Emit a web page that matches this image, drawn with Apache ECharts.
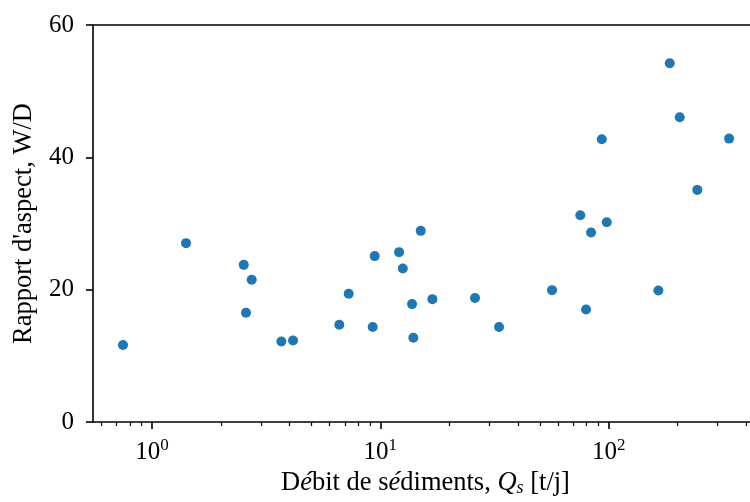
<!DOCTYPE html>
<html>
<head>
<meta charset="utf-8">
<script src="https://cdn.jsdelivr.net/npm/echarts@6/dist/echarts.min.js"></script>
<style>html,body{margin:0;padding:0;background:#fff;}#c{width:750px;height:502px;}</style>
</head>
<body>
<div id="c"></div>
<script>
// Data
const sedimentFlux = [0.746, 1.409, 2.522, 2.733, 2.580, 3.685, 4.146, 15.03, 9.45, 12.08,
  12.54, 7.27, 13.77, 16.90, 6.61, 9.26, 13.95, 25.98, 33.11, 56.51,
  79.62, 185.2, 204.8, 93.3, 336.9, 244.6, 75.16, 98.1, 83.75, 165.1];
const aspectRatio = [11.63, 27.03, 23.75, 21.49, 16.51, 12.17, 12.32, 28.89, 25.07, 25.67,
  23.20, 19.37, 17.82, 18.57, 14.69, 14.35, 12.73, 18.73, 14.35, 19.93,
  17.00, 54.21, 46.06, 42.74, 42.83, 35.08, 31.26, 30.20, 28.63, 19.87];
const xMajorTicks = [1, 10, 100];
const xMinorTicks = [0.6, 0.7, 0.8, 0.9, 2, 3, 4, 5, 6, 7, 8, 9, 20, 30, 40, 50, 60, 70, 80, 90, 200, 300, 400];
const xExponents = {1: '0', 10: '1', 100: '2'};
const yTicks = [0, 20, 40, 60];

const FONT = '"Liberation Serif", "DejaVu Serif", serif';
const xMin = 0.5514, xMax = 451;

const chart = echarts.init(document.getElementById('c'), null, {renderer: 'canvas'});
const lineStyle = {color: '#000', width: 1.6};
chart.setOption({
  animation: false,
  backgroundColor: '#fff',
  grid: {left: 93, top: 25, right: -8, bottom: 80, containLabel: false, outerBoundsMode: 'none'},
  xAxis: [
    {
      type: 'log', logBase: 10, min: xMin, max: xMax, position: 'bottom',
      axisLine: {show: true, lineStyle: lineStyle},
      axisTick: {show: true, length: 7, lineStyle: {color: '#000', width: 1.6}, customValues: xMajorTicks},
      axisLabel: {
        show: true, margin: 15, customValues: xMajorTicks,
        formatter: v => '{b|10}{s|' + xExponents[Math.round(v)] + '}',
        rich: {
          b: {fontFamily: FONT, fontSize: 25, color: '#000', verticalAlign: 'bottom', lineHeight: 28},
          s: {fontFamily: FONT, fontSize: 17, color: '#000', verticalAlign: 'top', lineHeight: 28}
        }
      },
      splitLine: {show: false},
      name: 'D{i|é}bit de s{i|é}diments, {i|Q}{sub|s} [t/j]',
      nameLocation: 'middle', nameGap: 48,
      nameTextStyle: {
        fontFamily: FONT, fontSize: 26.5, color: '#000',
        rich: {
          i: {fontFamily: FONT, fontSize: 26.5, fontStyle: 'italic', color: '#000'},
          sub: {fontFamily: FONT, fontSize: 18, fontStyle: 'italic', color: '#000', verticalAlign: 'bottom', padding: [8, 0, 0, 0]}
        }
      }
    },
    {
      type: 'log', logBase: 10, min: xMin, max: xMax, position: 'bottom',
      axisLine: {show: false},
      axisTick: {show: true, length: 4, lineStyle: {color: '#000', width: 1.2}, customValues: xMinorTicks},
      axisLabel: {show: false},
      splitLine: {show: false}
    },
    {
      type: 'log', logBase: 10, min: xMin, max: xMax, position: 'top',
      axisLine: {show: true, lineStyle: lineStyle},
      axisTick: {show: false}, axisLabel: {show: false}, splitLine: {show: false}
    }
  ],
  yAxis: {
    type: 'value', min: 0, max: 60, interval: 20,
    axisLine: {show: true, lineStyle: lineStyle},
    axisTick: {show: true, length: 7, lineStyle: {color: '#000', width: 1.6}},
    axisLabel: {fontFamily: FONT, fontSize: 25, color: '#000', margin: 19, customValues: yTicks},
    splitLine: {show: false},
    name: "Rapport d'aspect, W/D", nameLocation: 'middle', nameGap: 55, nameRotate: 90,
    nameTextStyle: {fontFamily: FONT, fontSize: 26.5, color: '#000'}
  },
  series: [{
    type: 'scatter', xAxisIndex: 0,
    data: sedimentFlux.map((x, i) => [x, aspectRatio[i]]),
    symbol: 'circle', symbolSize: 10,
    itemStyle: {color: '#1f77b4', opacity: 1}
  }]
});
</script>
</body>
</html>
